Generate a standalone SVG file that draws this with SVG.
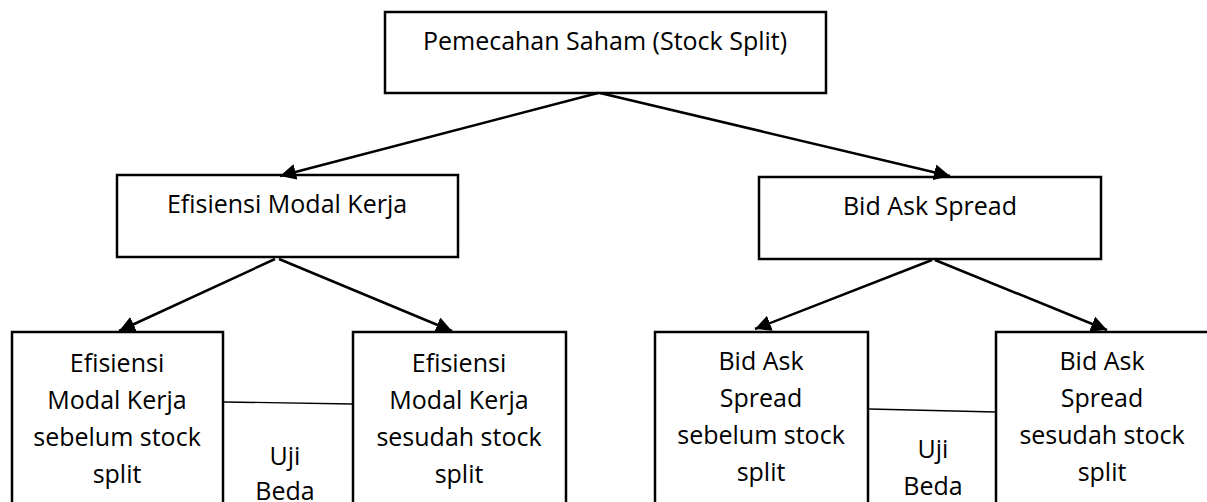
<svg xmlns="http://www.w3.org/2000/svg" width="1207" height="502" viewBox="0 0 1207 502">
<style>
.box{fill:#fff;stroke:#000;stroke-width:2.5}
.t{font-family:"Open Sans","Noto Sans","Liberation Sans",sans-serif;font-size:25px;fill:#000;text-anchor:middle}
.arr{stroke:#000;stroke-width:2.5;fill:none;marker-end:url(#ah)}
.thin{stroke:#000;stroke-width:1.3;fill:none}
</style>
<defs>
<marker id="ah" markerUnits="userSpaceOnUse" markerWidth="17" markerHeight="16" refX="16" refY="8" orient="auto">
<path d="M0,0 L16,8 L0,16 z" fill="#000"/>
</marker>
</defs>
<rect width="1207" height="502" fill="#fff"/>
<g id="n-top"><rect class="box" x="385" y="12" width="441" height="81"/><text class="t" x="605" y="50">Pemecahan Saham (Stock Split)</text></g>
<g id="n-emk"><rect class="box" x="117" y="175" width="341" height="82"/><text class="t" x="287" y="213">Efisiensi Modal Kerja</text></g>
<g id="n-bas"><rect class="box" x="759" y="177" width="342" height="82"/><text class="t" x="930" y="215">Bid Ask Spread</text></g>
<g id="n-emk-pre"><rect class="box" x="12" y="332" width="211" height="190"/><text class="t" x="117" y="372">Efisiensi</text><text class="t" x="117" y="409">Modal Kerja</text><text class="t" x="117" y="446">sebelum stock</text><text class="t" x="117" y="483">split</text></g>
<g id="n-emk-post"><rect class="box" x="353" y="332" width="213" height="190"/><text class="t" x="459" y="372">Efisiensi</text><text class="t" x="459" y="409">Modal Kerja</text><text class="t" x="459" y="446">sesudah stock</text><text class="t" x="459" y="483">split</text></g>
<g id="n-bas-pre"><rect class="box" x="655" y="332" width="213" height="190"/><text class="t" x="761" y="370">Bid Ask</text><text class="t" x="761" y="407">Spread</text><text class="t" x="761" y="444">sebelum stock</text><text class="t" x="761" y="481">split</text></g>
<g id="n-bas-post"><rect class="box" x="996" y="332" width="220" height="190"/><text class="t" x="1102" y="370">Bid Ask</text><text class="t" x="1102" y="407">Spread</text><text class="t" x="1102" y="444">sesudah stock</text><text class="t" x="1102" y="481">split</text></g>
<g id="connectors">
<line class="arr" x1="598" y1="93" x2="280" y2="176"/>
<line class="arr" x1="600" y1="93" x2="950" y2="176"/>
<line class="arr" x1="275" y1="259" x2="119" y2="331"/>
<line class="arr" x1="279" y1="259" x2="452" y2="331"/>
<line class="arr" x1="932" y1="260" x2="755" y2="329"/>
<line class="arr" x1="935" y1="260" x2="1107" y2="330"/>
<line class="thin" x1="224" y1="402" x2="352" y2="404"/>
<line class="thin" x1="869" y1="409" x2="996" y2="412"/>
<text class="t" x="285" y="465">Uji</text><text class="t" x="285" y="500">Beda</text>
<text class="t" x="933" y="458">Uji</text><text class="t" x="933" y="495">Beda</text>
</g>
</svg>
